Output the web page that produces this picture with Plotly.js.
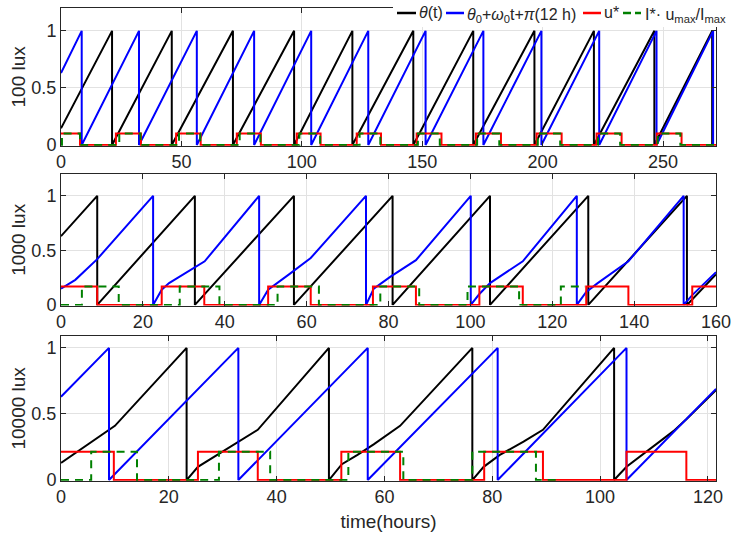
<!DOCTYPE html>
<html><head><meta charset="utf-8">
<script src="https://cdn.plot.ly/plotly-3.0.1.min.js"></script>
<style>html,body{margin:0;padding:0;background:#fff}#chart{width:735px;height:541px}</style>
</head><body><div id="chart"></div>
<script>
// ---------- Panel 1 : 100 lux ----------
const p1ThetaT = [0, 21.2, 21.2, 46.0, 46.0, 71.4, 71.4, 96.8, 96.8, 121.0, 121.0, 146.3, 146.3, 171.2, 171.2, 196.6, 196.6, 221.3, 221.3, 246.4, 246.4, 270.4, 270.4];
const p1ThetaV = [0.146, 1, 0, 1, 0, 1, 0, 1, 0, 1, 0, 1, 0, 1, 0, 1, 0, 1, 0, 1, 0, 1, 0];
const p1FreeT = [0, 8.6, 8.6, 32.4, 32.4, 56.4, 56.4, 80.2, 80.2, 103.9, 103.9, 127.6, 127.6, 151.4, 151.4, 175.4, 175.4, 199.5, 199.5, 223.5, 223.5, 247.3, 247.3, 270.8, 270.8];
const p1FreeV = [0.63, 1, 0, 1, 0, 1, 0, 1, 0, 1, 0, 1, 0, 1, 0, 1, 0, 1, 0, 1, 0, 1, 0, 1, 0];
const p1UT = [0, 7.9, 22.8, 33.2, 47.8, 58.0, 73.0, 83.0, 97.9, 107.8, 122.8, 132.9, 147.7, 158.0, 172.3, 182.7, 197.5, 207.9, 222.4, 232.8, 247.4, 257.7, 272];
const p1UV = [0.1, 0, 0.1, 0, 0.1, 0, 0.1, 0, 0.1, 0, 0.1, 0, 0.1, 0, 0.1, 0, 0.1, 0, 0.1, 0, 0.1, 0, 0];
const p1IT = [0, 0.4, 7.9, 24.2, 33.0, 49.0, 57.8, 74.2, 82.8, 99.0, 107.6, 124.0, 132.6, 148.2, 157.3, 172.8, 182.0, 198.0, 207.3, 223.0, 232.2, 247.8, 257.2, 272];
const p1IV = [0, 0.1, 0, 0.1, 0, 0.1, 0, 0.1, 0, 0.1, 0, 0.1, 0, 0.1, 0, 0.1, 0, 0.1, 0, 0.1, 0, 0.1, 0, 0];

// ---------- Panel 2 : 1000 lux ----------
const p2ThetaT = [0, 8.85, 8.85, 32.7, 32.7, 56.9, 56.9, 81.0, 81.0, 104.8, 104.8, 128.8, 128.8, 152.9, 152.9, 160];
const p2ThetaV = [0.63, 1, 0, 1, 0, 1, 0, 1, 0, 1, 0, 1, 0, 1, 0, 0.28];
const p2FreeT = [0, 3.5, 8.85, 22.5, 22.5, 24.6, 26.4, 31.2, 35.1, 48.4, 48.4, 50.6, 52.9, 55.7, 61.0, 74.5, 74.5, 76.4, 80.5, 86.7, 100.1, 100.1, 102.2, 104.8, 112.8, 126.0, 126.0, 128.3, 131.1, 138.6, 152.1, 152.1, 154.2, 160];
const p2FreeV = [0.15, 0.23, 0.42, 1, 0, 0.14, 0.2, 0.31, 0.4, 1, 0, 0.14, 0.2, 0.28, 0.43, 1, 0, 0.15, 0.26, 0.41, 1, 0, 0.1, 0.2, 0.4, 1, 0, 0.12, 0.2, 0.4, 1, 0, 0.09, 0.3];
const p2UT = [0, 8.85, 24.6, 35.0, 50.6, 61.0, 76.2, 86.7, 102.2, 112.8, 128.3, 138.6, 154.2, 160];
const p2UV = [0.17, 0, 0.17, 0, 0.17, 0, 0.17, 0, 0.17, 0, 0.17, 0, 0.17, 0.17];
const p2IT = [0, 5.1, 14.1, 29.0, 38.7, 52.9, 63.0, 78.0, 87.5, 99.3, 111.9, 122.1, 128.0];
const p2IV = [0, 0.17, 0, 0.17, 0, 0.17, 0, 0.17, 0, 0.17, 0, 0.17, 0.17];

// ---------- Panel 3 : 10000 lux ----------
const p3ThetaT = [0, 2.5, 5.7, 10.0, 23.3, 23.3, 25.4, 29.3, 33.0, 36.5, 49.7, 49.7, 52.1, 55.0, 58.0, 62.9, 76.3, 76.3, 78.4, 81.4, 85.8, 89.4, 102.6, 102.6, 104.9, 108.7, 113.6, 116.0, 121.5];
const p3ThetaV = [0.13, 0.2, 0.29, 0.41, 1, 0, 0.1, 0.2, 0.29, 0.38, 1, 0, 0.12, 0.19, 0.27, 0.41, 1, 0, 0.1, 0.19, 0.29, 0.38, 1, 0, 0.1, 0.22, 0.37, 0.46, 0.68];
const p3FreeT = [0, 8.9, 8.9, 32.9, 32.9, 56.9, 56.9, 81.0, 81.0, 104.9, 104.9, 121.5];
const p3FreeV = [0.63, 1, 0, 1, 0, 1, 0, 1, 0, 1, 0, 0.69];
const p3UT = [0, 9.8, 25.4, 36.5, 52.0, 62.9, 78.5, 89.4, 104.9, 116.0, 121.5];
const p3UV = [0.215, 0, 0.215, 0, 0.215, 0, 0.215, 0, 0.215, 0, 0];
const p3IT = [0, 5.6, 14.1, 29.3, 38.8, 53.3, 63.5, 76.3, 88.1, 92.0];
const p3IV = [0, 0.215, 0, 0.215, 0, 0.215, 0, 0.215, 0, 0];

const panelNames = ['100 lux', '1000 lux', '10000 lux'];
const xTicks1 = [0, 50, 100, 150, 200, 250];
const xTicks2 = [0, 20, 40, 60, 80, 100, 120, 140, 160];
const xTicks3 = [0, 20, 40, 60, 80, 100, 120];
const yTicks = [0, 0.5, 1];
const yTickText = ['0', '0.5', '1'];
const legendLabels = ['<i>θ</i>(t)', '<i>θ</i><sub>0</sub>+<i>ω</i><sub>0</sub>t+<i>π</i>(12 h)', 'u*', 'I*· u<sub>max</sub>/I<sub>max</sub>'];

const BLACK = '#000000', BLUE = '#0000ff', RED = '#ff0000', GREEN = '#008000';
const LW = 2;

function panelTraces(tT, tV, fT, fV, uT, uV, iT, iV, xa, ya) {
  return [
    {x: tT, y: tV, xaxis: xa, yaxis: ya, mode: 'lines', line: {color: BLACK, width: LW}, showlegend: false, hoverinfo: 'skip'},
    {x: fT, y: fV, xaxis: xa, yaxis: ya, mode: 'lines', line: {color: BLUE, width: LW}, showlegend: false, hoverinfo: 'skip'},
    {x: uT, y: uV, xaxis: xa, yaxis: ya, mode: 'lines', line: {color: RED, width: LW, shape: 'hv'}, showlegend: false, hoverinfo: 'skip'},
    {x: iT, y: iV, xaxis: xa, yaxis: ya, mode: 'lines', line: {color: GREEN, width: LW, shape: 'hv', dash: '8px,6px'}, showlegend: false, hoverinfo: 'skip'}
  ];
}

const data = [].concat(
  panelTraces(p1ThetaT, p1ThetaV, p1FreeT, p1FreeV, p1UT, p1UV, p1IT, p1IV, 'x', 'y'),
  panelTraces(p2ThetaT, p2ThetaV, p2FreeT, p2FreeV, p2UT, p2UV, p2IT, p2IV, 'x2', 'y2'),
  panelTraces(p3ThetaT, p3ThetaV, p3FreeT, p3FreeV, p3UT, p3UV, p3IT, p3IV, 'x3', 'y3')
);

const W = 735, H = 541;
const fx = v => v / W, fy = v => 1 - v / H;
const FONT = 'Liberation Sans, Arial, Helvetica, sans-serif';
const TXT = '#262626';

function ax(extra) {
  return Object.assign({
    showline: true, linecolor: '#262626', linewidth: 1, mirror: 'ticks',
    ticks: 'inside', ticklen: 5, tickcolor: '#262626', tickwidth: 1,
    showgrid: true, gridcolor: '#e2e2e2', gridwidth: 1, zeroline: false,
    tickfont: {family: FONT, size: 18, color: TXT}, fixedrange: true
  }, extra);
}
const xdom = [fx(61), fx(716)];
const yTitleFont = {family: FONT, size: 19, color: TXT};

const layout = {
  width: W, height: H, margin: {l: 0, r: 0, t: 0, b: 0},
  paper_bgcolor: '#ffffff', plot_bgcolor: '#ffffff', showlegend: false,
  font: {family: FONT, color: TXT},
  xaxis: ax({domain: xdom, anchor: 'y', range: [0, 272], tickvals: xTicks1}),
  yaxis: ax({domain: [fy(145.7), fy(8)], anchor: 'x', range: [-0.006, 1.2], tickvals: yTicks, ticktext: yTickText,
    title: {text: panelNames[0], font: yTitleFont, standoff: 0}}),
  xaxis2: ax({domain: xdom, anchor: 'y2', range: [0, 160], tickvals: xTicks2}),
  yaxis2: ax({domain: [fy(305.6), fy(174)], anchor: 'x2', range: [-0.006, 1.2], tickvals: yTicks, ticktext: yTickText,
    title: {text: panelNames[1], font: yTitleFont, standoff: 0}}),
  xaxis3: ax({domain: xdom, anchor: 'y3', range: [0, 121.5], tickvals: xTicks3,
    title: {text: 'time(hours)', font: {family: FONT, size: 19, color: TXT}, standoff: 8}}),
  yaxis3: ax({domain: [fy(480.7), fy(336)], anchor: 'x3', range: [-0.005, 1.09], tickvals: yTicks, ticktext: yTickText,
    title: {text: panelNames[2], font: yTitleFont, standoff: 0}}),
  shapes: [
    {type: 'rect', xref: 'paper', yref: 'paper', x0: fx(393), x1: fx(735), y0: fy(27), y1: fy(0), fillcolor: '#ffffff', line: {width: 0}, layer: 'above'},
    {type: 'line', xref: 'paper', yref: 'paper', x0: fx(397), x1: fx(416), y0: fy(13), y1: fy(13), line: {color: BLACK, width: 2.5}, layer: 'above'},
    {type: 'line', xref: 'paper', yref: 'paper', x0: fx(446), x1: fx(464), y0: fy(13), y1: fy(13), line: {color: BLUE, width: 2.5}, layer: 'above'},
    {type: 'line', xref: 'paper', yref: 'paper', x0: fx(583), x1: fx(601), y0: fy(13), y1: fy(13), line: {color: RED, width: 2.5}, layer: 'above'},
    {type: 'line', xref: 'paper', yref: 'paper', x0: fx(623), x1: fx(641), y0: fy(13), y1: fy(13), line: {color: GREEN, width: 2.5, dash: '8px,4px'}, layer: 'above'}
  ],
  annotations: [
    {xref: 'paper', yref: 'paper', x: fx(417), y: fy(13), xanchor: 'left', yanchor: 'middle', showarrow: false, text: legendLabels[0], font: {family: FONT, size: 16, color: TXT}},
    {xref: 'paper', yref: 'paper', x: fx(465), y: fy(15), xanchor: 'left', yanchor: 'middle', showarrow: false, text: legendLabels[1], font: {family: FONT, size: 16, color: TXT}},
    {xref: 'paper', yref: 'paper', x: fx(602), y: fy(13), xanchor: 'left', yanchor: 'middle', showarrow: false, text: legendLabels[2], font: {family: FONT, size: 16, color: TXT}},
    {xref: 'paper', yref: 'paper', x: fx(643), y: fy(15), xanchor: 'left', yanchor: 'middle', showarrow: false, text: legendLabels[3], font: {family: FONT, size: 16, color: TXT}}
  ]
};

Plotly.newPlot('chart', data, layout, {staticPlot: true, displayModeBar: false});
</script>
</body></html>
